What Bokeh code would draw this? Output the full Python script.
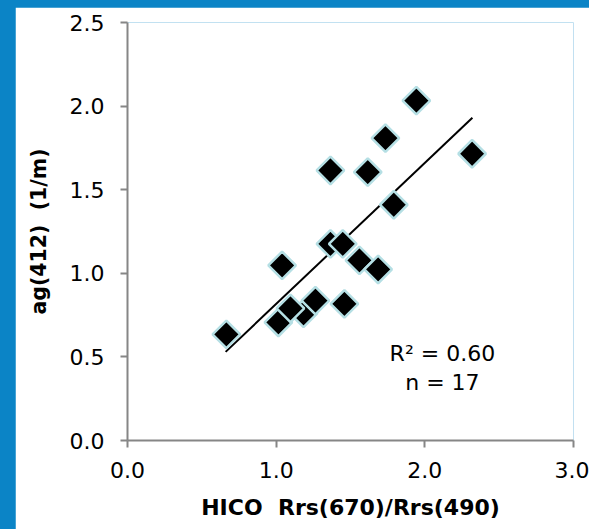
import math
from bokeh.plotting import figure
from bokeh.models import Range1d, FixedTicker, NumeralTickFormatter, Label
from bokeh.embed import file_html
from bokeh.resources import INLINE

# ---- data ----
ratio_x = [0.665, 1.015, 1.184, 1.096, 1.264, 1.04, 1.459, 1.365, 1.56, 1.448,
           1.686, 1.365, 1.616, 1.735, 1.791, 1.943, 2.318]
ag412_y = [0.635, 0.706, 0.760, 0.790, 0.837, 1.047, 0.817, 1.176, 1.077, 1.176,
           1.023, 1.615, 1.605, 1.808, 1.410, 2.033, 1.715]
trend_x = [0.66, 2.32]
trend_y = [0.53, 1.93]
x_ticks = [0, 1, 2, 3]
y_ticks = [0, 0.5, 1.0, 1.5, 2.0, 2.5]
stat_lines = ["R\u00b2 = 0.60", "n = 17"]
x_title = "HICO\u00a0 Rrs(670)/Rrs(490)"
y_title = "ag(412)\u00a0 (1/m)"

FONT = "DejaVu Sans"
AXIS_GRAY = "#868686"
BLUE = "#0b84c6"

p = figure(width=574, height=522, output_backend="svg", toolbar_location=None,
           x_range=Range1d(0, 3), y_range=Range1d(0, 2.5),
           min_border_left=112, min_border_right=16,
           min_border_top=15, min_border_bottom=89,
           border_fill_color="white", background_fill_color="white")
p.margin = (7, 0, 0, 15)
p.outline_line_color = None
p.grid.visible = False

for ax in (p.xaxis[0], p.yaxis[0]):
    ax.axis_line_color = AXIS_GRAY
    ax.axis_line_width = 2
    ax.major_tick_line_color = AXIS_GRAY
    ax.major_tick_line_width = 2
    ax.major_tick_in = 0
    ax.major_tick_out = 7
    ax.minor_tick_line_color = None
    ax.major_label_text_font = FONT
    ax.major_label_text_font_size = "22px"
    ax.major_label_text_color = "black"
    ax.axis_label_text_font = FONT
    ax.axis_label_text_font_style = "bold"
    ax.axis_label_text_color = "black"
    ax.formatter = NumeralTickFormatter(format="0.0")

p.xaxis.axis_label_text_font_size = "22px"
p.yaxis.axis_label_text_font_size = "20.5px"
p.xaxis.ticker = FixedTicker(ticks=x_ticks)
p.yaxis.ticker = FixedTicker(ticks=y_ticks)
p.xaxis.axis_label = x_title
p.yaxis.axis_label = y_title
p.xaxis.major_label_standoff = 14
p.xaxis.axis_label_standoff = 14
p.yaxis.major_label_standoff = 16
p.yaxis.axis_label_standoff = 16

p.line(trend_x, trend_y, line_color="black", line_width=2)
p.scatter(ratio_x, ag412_y, marker="square", angle=math.pi / 4, size=19.5,
          fill_color="black", line_color="#b5dfe4", line_width=2.5)

p.add_layout(Label(x=2.118, y=0.52, text=stat_lines[0], text_align="center",
                   text_baseline="alphabetic", text_font=FONT,
                   text_font_size="22px", text_color="black"))
p.add_layout(Label(x=2.118, y=0.347, text=stat_lines[1], text_align="center",
                   text_baseline="alphabetic", text_font=FONT,
                   text_font_size="22px", text_color="black"))

html = file_html(p, INLINE)
css = ("<style>html,body{margin:0 !important;background:" + BLUE +
       " !important;}</style>")
html = html.replace("</head>", css + "</head>", 1)
open("out.html", "w").write(html)
